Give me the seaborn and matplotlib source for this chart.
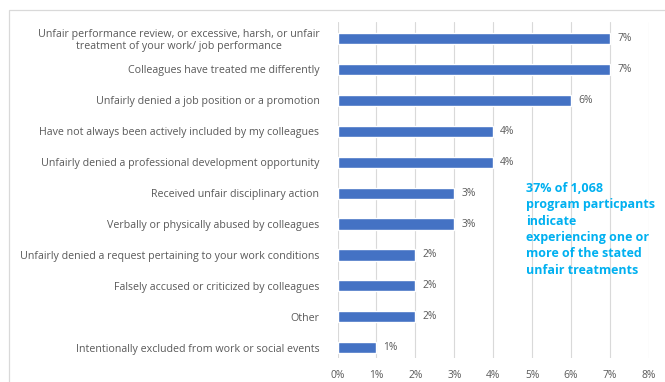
import matplotlib
matplotlib.use("Agg")
import matplotlib.pyplot as plt
import seaborn as sns
import pandas as pd
from matplotlib.patches import Rectangle

categories = [
    "Unfair performance review, or excessive, harsh, or unfair\ntreatment of your work/ job performance",
    "Colleagues have treated me differently",
    "Unfairly denied a job position or a promotion",
    "Have not always been actively included by my colleagues",
    "Unfairly denied a professional development opportunity",
    "Received unfair disciplinary action",
    "Verbally or physically abused by colleagues",
    "Unfairly denied a request pertaining to your work conditions",
    "Falsely accused or criticized by colleagues",
    "Other",
    "Intentionally excluded from work or social events",
]
values = [7, 7, 6, 4, 4, 3, 3, 2, 2, 2, 1]
value_labels = ["7%", "7%", "6%", "4%", "4%", "3%", "3%", "2%", "2%", "2%", "1%"]
tick_values = [0, 1, 2, 3, 4, 5, 6, 7, 8]
tick_labels = ["0%", "1%", "2%", "3%", "4%", "5%", "6%", "7%", "8%"]
note = "37% of 1,068\nprogram particpants\nindicate\nexperiencing one or\nmore of the stated\nunfair treatments"

df = pd.DataFrame({"category": categories, "value": values})

sns.set_theme(style="white")
plt.rcParams["font.family"] = ["Open Sans", "DejaVu Sans"]

W, H = 665, 382
fig = plt.figure(figsize=(W / 100, H / 100), dpi=100)
ax_left, ax_right, ax_top, ax_bottom = 337.5, 649, 22, 358
ax = fig.add_axes([ax_left / W, 1 - ax_bottom / H, (ax_right - ax_left) / W, (ax_bottom - ax_top) / H])

# chart border
fig.patches.append(Rectangle((9 / W, -0.1), 1.2, 1 - 10 / H + 0.1, transform=fig.transFigure,
                             fill=False, edgecolor="#D9D9D9", linewidth=0.9, zorder=0))

sns.barplot(data=df, y="category", x="value", orient="h", color="#4472C4",
            width=0.36, saturation=1, ax=ax, zorder=3)

ax.set_xlim(0, 8)
ax.set_ylim(10.33, -0.53)
ax.set_xticks(tick_values)
ax.set_xticklabels(tick_labels, color="#595959", fontsize=7.4)
ax.tick_params(axis="x", length=0, pad=9)
ax.tick_params(axis="y", length=0, pad=13, labelsize=7.7, labelcolor="#595959")
for lbl in ax.get_yticklabels():
    lbl.set_horizontalalignment("right")
    lbl.set_multialignment("center")
ax.set_xlabel("")
ax.set_ylabel("")
ax.grid(axis="x", color="#D9D9D9", linewidth=0.8, zorder=0)
ax.set_axisbelow(True)
for s in ax.spines.values():
    s.set_visible(False)

for i, (v, t) in enumerate(zip(values, value_labels)):
    ax.text(v + 0.18, i, t, va="center", ha="left", fontsize=7.4, color="#595959")

fig.text(526 / W, 1 - 182 / H, note, ha="left", va="top", fontsize=9,
         fontweight="bold", color="#00B0F0", linespacing=1.33)

fig.savefig("out.png", dpi=100, facecolor="white")
